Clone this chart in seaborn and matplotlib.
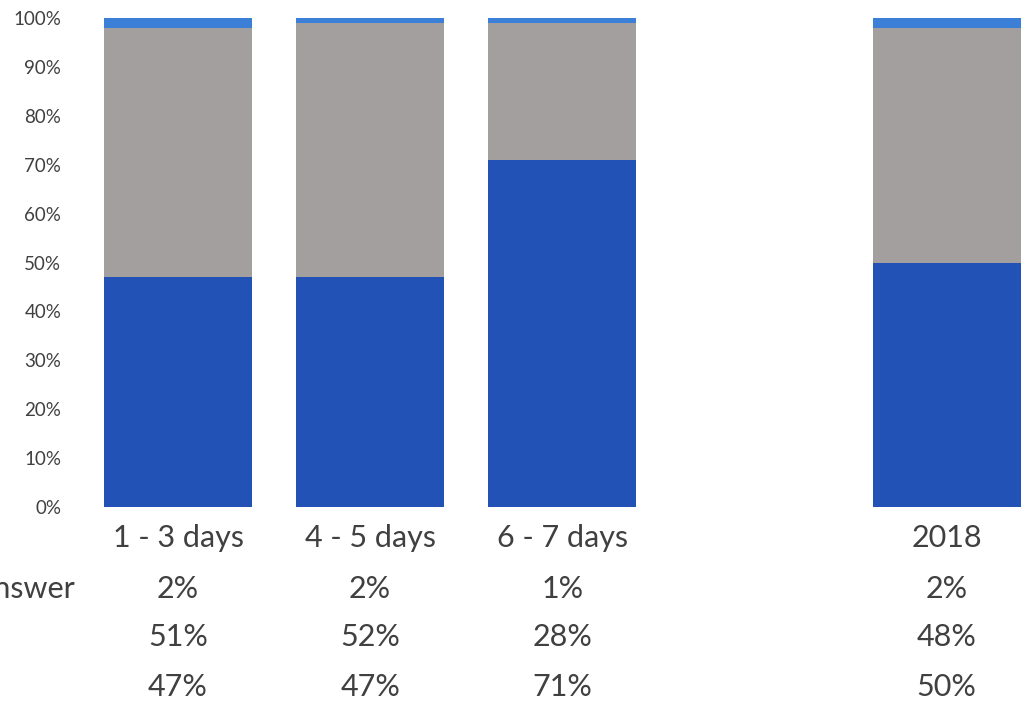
import matplotlib
matplotlib.use("Agg")
import matplotlib.pyplot as plt
import matplotlib.transforms as mtransforms
import seaborn as sns
import pandas as pd

# ---- data ----
categories = ["1 - 3 days", "4 - 5 days", "6 - 7 days", "2018"]
slots = ["1 - 3 days", "4 - 5 days", "6 - 7 days", " ", "2018"]
yes_vals = [47, 47, 71, 50]
no_vals = [51, 52, 28, 48]
no_answer_vals = [2, 2, 1, 2]
row_label = "No answer"
y_ticks = list(range(0, 101, 10))

BLUE = "#2352b6"
GREY = "#a39f9e"
LIGHT = "#3b80d6"
TXT = "#404040"

sns.set_theme(style="white")
plt.rcParams["font.family"] = ["Lato", "DejaVu Sans"]

W, H = 1022, 704
fig = plt.figure(figsize=(W / 100, H / 100), dpi=100)
ax = fig.add_axes([82 / W, (H - 507) / H, 960.6 / W, 489 / H])

df = pd.DataFrame({
    "cat": categories,
    "yes": yes_vals,
    "no": no_vals,
    "na": no_answer_vals,
})
df["c1"] = df["yes"]
df["c2"] = df["yes"] + df["no"]
df["c3"] = df["yes"] + df["no"] + df["na"]

bw = 0.77
for col, colr in [("c3", LIGHT), ("c2", GREY), ("c1", BLUE)]:
    sns.barplot(data=df, x="cat", y=col, order=slots, color=colr,
                saturation=1, width=bw, ax=ax, errorbar=None, linewidth=0)

ax.set_xlim(-0.5, 4.5)
ax.set_ylim(0, 100)
ax.set_yticks(y_ticks)
ax.set_yticklabels([f"{v}%" for v in y_ticks], fontsize=13.5, color=TXT)
ax.tick_params(axis="y", length=0, pad=15)
ax.set_xticks([])
ax.set_xlabel("")
ax.set_ylabel("")
for s in ax.spines.values():
    s.set_visible(False)

trans = mtransforms.blended_transform_factory(ax.transData, fig.transFigure)
rows_y = [538, 589, 637, 687]
fs = 22
for i, cat in enumerate(slots):
    if cat.strip() == "":
        continue
    j = categories.index(cat)
    ax.text(i, 1 - rows_y[0] / H, cat, transform=trans, ha="center", va="center",
            fontsize=fs, color=TXT, clip_on=False)
    for r, vals in enumerate([no_answer_vals, no_vals, yes_vals]):
        ax.text(i, 1 - rows_y[r + 1] / H, f"{vals[j]}%", transform=trans,
                ha="center", va="center", fontsize=fs, color=TXT, clip_on=False)

# row label, partly cut off by the figure's left edge as in the reference
fig.text(75 / W, 1 - rows_y[1] / H, row_label, ha="right", va="center",
         fontsize=fs, color=TXT)

fig.savefig("out.png", dpi=100)
